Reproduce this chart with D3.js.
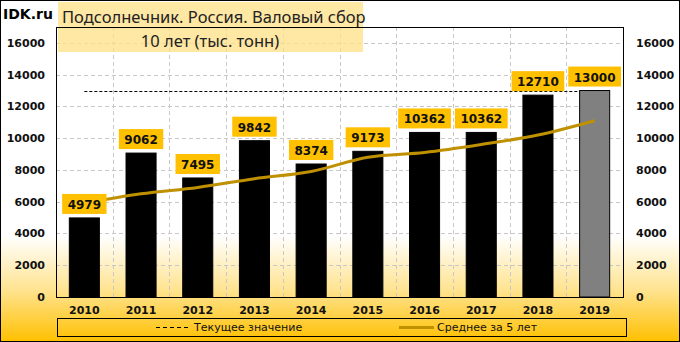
<!DOCTYPE html>
<html>
<head>
<meta charset="utf-8">
<script src="https://cdn.jsdelivr.net/npm/d3@7"></script>
<style>
  body { margin: 0; background: #fff; }
  svg { display: block; }
  .tick-label { font-family: "DejaVu Sans", sans-serif; font-weight: bold; font-size: 11px; fill: #111; }
  .value-label { font-family: "DejaVu Sans", sans-serif; font-weight: bold; font-size: 12px; fill: #111; }
  .legend-text { font-family: "DejaVu Sans", sans-serif; font-size: 11px; fill: #111; }
</style>
</head>
<body>
<div id="chart"></div>
<script>
// chart data
var years = ["2010", "2011", "2012", "2013", "2014", "2015", "2016", "2017", "2018", "2019"];
var harvest = [4979, 9062, 7495, 9842, 8374, 9173, 10362, 10362, 12710, 13000];
var average5 = [5900, 6500, 6900, 7450, 7900, 8800, 9100, 9600, 10200, 11100];
var currentValue = 13000;
var yTicks = [0, 2000, 4000, 6000, 8000, 10000, 12000, 14000, 16000];

var width = 680, height = 342;
var margin = {top: 27, right: 57, bottom: 45, left: 56};

var svg = d3.select("#chart").append("svg")
  .attr("width", width)
  .attr("height", height);

// background gradient white -> gold
var defs = svg.append("defs");
var grad = defs.append("linearGradient")
  .attr("id", "bg")
  .attr("x1", 0).attr("y1", 0).attr("x2", 0).attr("y2", 1);
grad.append("stop").attr("offset", "0.69").attr("stop-color", "#ffffff");
grad.append("stop").attr("offset", "0.85").attr("stop-color", "#ffe38f");
grad.append("stop").attr("offset", "1").attr("stop-color", "#ffc000");

svg.append("rect")
  .attr("x", 0.5).attr("y", 0.5)
  .attr("width", width - 1).attr("height", height - 1)
  .attr("fill", "url(#bg)")
  .attr("stroke", "#000");

// scales
var x = d3.scaleBand()
  .domain(years)
  .range([margin.left, width - margin.right])
  .padding(0);

var y = d3.scaleLinear()
  .domain([0, 17000])
  .range([height - margin.bottom, margin.top]);

var bw = x.bandwidth() * 0.53;

// gridlines
svg.append("g").selectAll("line")
  .data(yTicks.slice(1))
  .enter().append("line")
  .attr("x1", margin.left).attr("x2", width - margin.right)
  .attr("y1", function(d){ return Math.round(y(d)) + 0.5; })
  .attr("y2", function(d){ return Math.round(y(d)) + 0.5; })
  .attr("stroke", "#c8c8c8")
  .attr("stroke-dasharray", "4,3");

svg.append("g").selectAll("line")
  .data(years.slice(1))
  .enter().append("line")
  .attr("x1", function(d){ return Math.round(x(d)) + 0.5; })
  .attr("x2", function(d){ return Math.round(x(d)) + 0.5; })
  .attr("y1", margin.top).attr("y2", height - margin.bottom)
  .attr("stroke", "#c8c8c8")
  .attr("stroke-dasharray", "4,3");

// title box
svg.append("rect")
  .attr("x", 58).attr("y", 2)
  .attr("width", 305).attr("height", 50)
  .attr("fill", "#ffdf85")
  .attr("opacity", 0.75);

svg.append("text")
  .attr("x", 3).attr("y", 19)
  .style("font-family", "DejaVu Sans, sans-serif")
  .style("font-weight", "bold")
  .style("font-size", "14px")
  .text("IDK.ru");

svg.append("text")
  .attr("x", 62).attr("y", 23)
  .style("font-family", "Noto Sans, sans-serif")
  .style("font-size", "16.5px")
  .style("fill", "#222")
  .text("Подсолнечник. Россия. Валовый сбор");

svg.append("text")
  .attr("x", 210).attr("y", 47)
  .attr("text-anchor", "middle")
  .style("font-family", "Noto Sans, sans-serif")
  .style("font-size", "16.5px")
  .style("fill", "#222")
  .text("10 лет (тыс. тонн)");

// current value dashed line
svg.append("line")
  .attr("x1", x(years[0]) + x.bandwidth() / 2)
  .attr("x2", x(years[years.length - 1]) + x.bandwidth() / 2)
  .attr("y1", Math.round(y(currentValue)) + 0.5)
  .attr("y2", Math.round(y(currentValue)) + 0.5)
  .attr("stroke", "#000")
  .attr("stroke-dasharray", "3,2");

// bars
svg.append("g").selectAll("rect")
  .data(harvest)
  .enter().append("rect")
  .attr("x", function(d, i){ return x(years[i]) + (x.bandwidth() - bw) / 2; })
  .attr("y", function(d){ return y(d); })
  .attr("width", bw)
  .attr("height", function(d){ return y(0) - y(d); })
  .attr("fill", function(d, i){ return i === years.length - 1 ? "#808080" : "#000"; })
  .attr("stroke", "#000")
  .attr("stroke-width", 1);

// 5 year average line
var line = d3.line()
  .x(function(d, i){ return x(years[i]) + x.bandwidth() / 2; })
  .y(function(d){ return y(d); })
  .curve(d3.curveMonotoneX);

svg.append("path")
  .datum(average5)
  .attr("d", line)
  .attr("fill", "none")
  .attr("stroke", "#bf9000")
  .attr("stroke-width", 3);

// value labels
var labels = svg.append("g").selectAll("g")
  .data(harvest)
  .enter().append("g");

labels.append("text")
  .attr("class", "value-label")
  .attr("text-anchor", "middle")
  .attr("x", function(d, i){ return x(years[i]) + x.bandwidth() / 2; })
  .attr("y", function(d){ return y(d) - 9; })
  .text(function(d){ return d; });

labels.insert("rect", "text")
  .attr("fill", "#ffc000")
  .each(function(d, i){
    var t = d3.select(this.parentNode).select("text").node();
    var w = t.getComputedTextLength() + 11;
    d3.select(this)
      .attr("x", x(years[i]) + x.bandwidth() / 2 - w / 2)
      .attr("y", y(d) - 24)
      .attr("width", w)
      .attr("height", 20);
  });

// plot border
svg.append("rect")
  .attr("x", margin.left + 0.5).attr("y", margin.top + 0.5)
  .attr("width", width - margin.left - margin.right)
  .attr("height", height - margin.top - margin.bottom)
  .attr("fill", "none")
  .attr("stroke", "#000");

// y axis labels (left and right)
svg.append("g").selectAll("text")
  .data(yTicks)
  .enter().append("text")
  .attr("class", "tick-label")
  .attr("text-anchor", "end")
  .attr("x", 45)
  .attr("y", function(d){ return y(d) + 4; })
  .text(function(d){ return d; });

svg.append("g").selectAll("text")
  .data(yTicks)
  .enter().append("text")
  .attr("class", "tick-label")
  .attr("x", 636)
  .attr("y", function(d){ return y(d) + 4; })
  .text(function(d){ return d; });

// x axis labels
svg.append("g").selectAll("text")
  .data(years)
  .enter().append("text")
  .attr("class", "tick-label")
  .attr("text-anchor", "middle")
  .attr("x", function(d){ return x(d) + x.bandwidth() / 2; })
  .attr("y", 314)
  .text(function(d){ return d; });

// legend
var legend = svg.append("g");
legend.append("rect")
  .attr("x", 57.5).attr("y", 318.5)
  .attr("width", 569).attr("height", 18)
  .attr("fill", "none")
  .attr("stroke", "#000");

legend.append("line")
  .attr("x1", 156).attr("x2", 190)
  .attr("y1", 327.5).attr("y2", 327.5)
  .attr("stroke", "#000")
  .attr("stroke-dasharray", "4,3");

legend.append("text")
  .attr("class", "legend-text")
  .attr("x", 194).attr("y", 331)
  .text("Текущее значение");

legend.append("line")
  .attr("x1", 399).attr("x2", 434)
  .attr("y1", 327.5).attr("y2", 327.5)
  .attr("stroke", "#bf9000")
  .attr("stroke-width", 3);

legend.append("text")
  .attr("class", "legend-text")
  .attr("x", 437).attr("y", 331)
  .text("Среднее за 5 лет");
</script>
</body>
</html>
